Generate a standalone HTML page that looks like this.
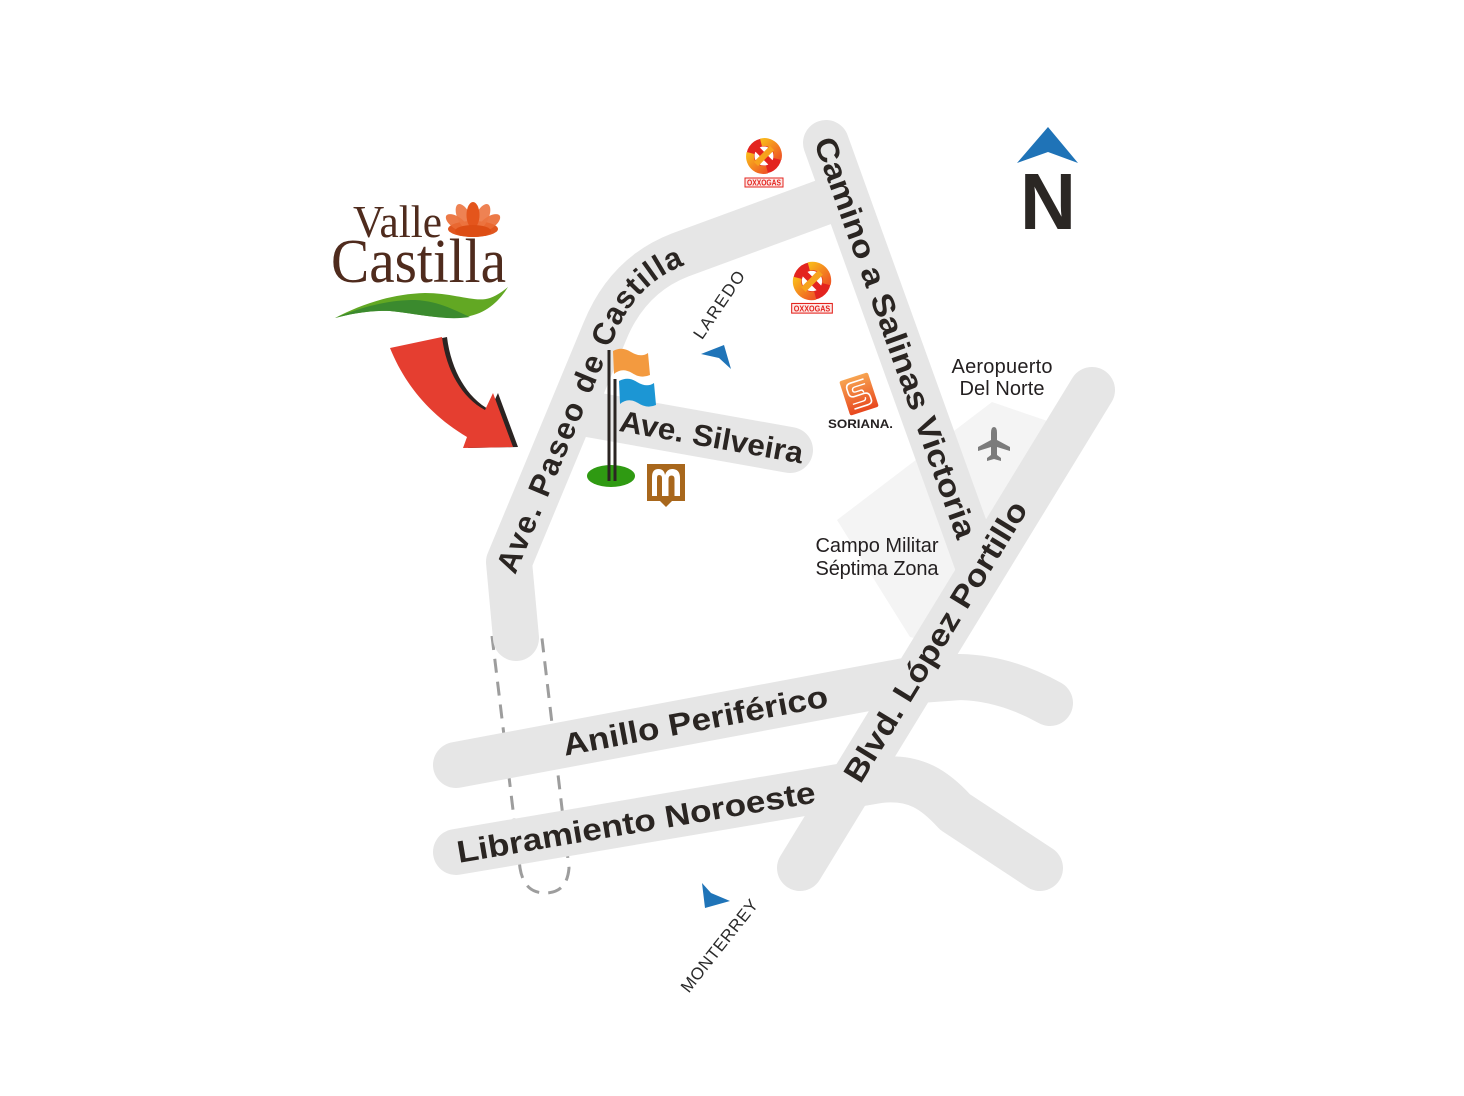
<!DOCTYPE html>
<html>
<head>
<meta charset="utf-8">
<style>
  html, body { margin:0; padding:0; background:#fff; }
  svg { display:block; }
</style>
</head>
<body>
<svg xmlns="http://www.w3.org/2000/svg" width="1464" height="1096" viewBox="0 0 1464 1096">
  <defs>
    <linearGradient id="og" x1="0" y1="0" x2="1" y2="1">
      <stop offset="0" stop-color="#f9b51b"/>
      <stop offset="1" stop-color="#ef5a24"/>
    </linearGradient>
    <linearGradient id="sg" x1="0" y1="0" x2="0" y2="1">
      <stop offset="0" stop-color="#f7a451"/>
      <stop offset="1" stop-color="#e8471e"/>
    </linearGradient>
    <path id="pp" d="M505,571 L605,331 Q628,275 680,255 L835,198" fill="none"/>
  </defs>

  <rect width="1464" height="1096" fill="#fff"/>

  <!-- campo militar shaded zone -->
  <polygon points="837,520 992,402 1062,426 930,642 910,637" fill="#f4f4f4"/>

  <!-- dashed route -->
  <path d="M492,636 L520,868 Q524,893 545,893 Q567,893 569,868 L541,630" fill="none" stroke="#9d9d9d" stroke-width="3" stroke-dasharray="14 9"/>

  <!-- roads -->
  <g fill="none" stroke="#e6e6e6" stroke-width="46" stroke-linecap="round" stroke-linejoin="round">
    <path d="M516,638 L509,562 L605,331 Q628,275 680,255 L835,198"/>
    <path d="M826,143 L978,565"/>
    <path d="M1092,390 L800,868"/>
    <path d="M456,765 L905,681 L960,677 Q1005,678 1050,703"/>
    <path d="M456,852 L880,780 C915,776 935,790 955,812 L1040,868"/>
    <path d="M588,414 L790,450"/>
  </g>

  <!-- road labels -->
  <g font-family="'Liberation Sans', Arial, sans-serif" font-weight="bold" font-size="31" fill="#2a2522">
    <text dy="11" letter-spacing="2"><textPath href="#pp">Ave. Paseo de Castilla</textPath></text>
    <text transform="translate(620,420) rotate(10.1)" dy="11" font-size="30" textLength="186" lengthAdjust="spacingAndGlyphs">Ave. Silveira</text>
    <text transform="translate(824,138) rotate(70.2)" dy="11" textLength="424" lengthAdjust="spacingAndGlyphs">Camino a Salinas Victoria</text>
    <text transform="translate(851,779) rotate(-58.6)" dy="11" textLength="323" lengthAdjust="spacingAndGlyphs">Blvd. López Portillo</text>
    <text transform="translate(563,745) rotate(-10.6)" dy="11" textLength="269" lengthAdjust="spacingAndGlyphs">Anillo Periférico</text>
    <text transform="translate(457,852) rotate(-9.6)" dy="11" textLength="363" lengthAdjust="spacingAndGlyphs">Libramiento Noroeste</text>
  </g>

  <!-- place labels -->
  <g font-family="'Liberation Sans', Arial, sans-serif" font-size="20" fill="#231f20" text-anchor="middle">
    <text x="1002" y="373" textLength="101">Aeropuerto</text>
    <text x="1002" y="395" textLength="85">Del Norte</text>
    <text x="877" y="552" textLength="123">Campo Militar</text>
    <text x="877" y="575" textLength="123">Séptima Zona</text>
  </g>

  <!-- direction labels -->
  <g font-family="'Liberation Sans', Arial, sans-serif" font-size="17" fill="#2a2a2a">
    <text transform="translate(697,337) rotate(-56)" dy="6" textLength="78">LAREDO</text>
    <text transform="translate(684,990) rotate(-51.6)" dy="6" textLength="113">MONTERREY</text>
  </g>
  <polygon points="724,345 731,369 719,358 701,354" fill="#1f74b8"/>
  <polygon points="702,883 705,908 730,901 711,893" fill="#1f74b8"/>

  <!-- plane -->
  <path d="M994,427 Q997,427 997,433 L997,440 L1010,447 L1010,451 L997,447 L997,455 L1001,458 L1001,461 L994,459 L987,461 L987,458 L991,455 L991,447 L978,451 L978,447 L991,440 L991,433 Q991,427 994,427 Z" fill="#7b7b7b"/>

  <!-- flags / golf -->
  <ellipse cx="611" cy="476" rx="24" ry="11" fill="#2f9a12"/>
  <rect x="607.5" y="350" width="3" height="131" fill="#2b2522"/>
  <rect x="613.5" y="379" width="3" height="102" fill="#2b2522"/>
  <path d="M613,351 Q622,346 631,352 Q641,358 648,353 L650,375 Q641,379 632,373 Q622,367 614,374 Z" fill="#f39a3f"/>
  <path d="M619,381 Q628,376 637,382 Q647,388 654,383 L656,405 Q647,409 638,403 Q628,397 620,404 Z" fill="#1c96d4"/>

  <!-- museum icon -->
  <rect x="647" y="464" width="38" height="37" fill="#a8671c"/>
  <polygon points="659,500 673,500 666,507" fill="#a8671c"/>
  <path d="M652,496 V477 Q652,469 658.5,469 Q664,469 665,475 Q667,469 672,469 Q680,469 680,478 V496 H674.5 V479 Q674.5,475.5 671.5,475.5 Q668.5,475.5 668.5,479 V496 H662 V478 Q662,475 659,475 Q657,475 657,478 V496 Z" fill="#fff"/>
  <rect x="658.3" y="478" width="1.3" height="18" fill="#a8671c"/>
  <rect x="670.8" y="478" width="1.3" height="18" fill="#a8671c"/>

  <!-- OXXO GAS 1 -->
  <g transform="translate(764,156)">
    <line x1="-8" y1="-8" x2="8" y2="8" stroke="#e3241f" stroke-width="6"/>
    <circle r="13.5" fill="none" stroke="#e3241f" stroke-width="8"/>
    <path d="M-3,-13.5 A13.5,13.5 0 0 1 13.5,3" fill="none" stroke="url(#og)" stroke-width="8"/>
    <path d="M3,13.5 A13.5,13.5 0 0 1 -13.5,-3" fill="none" stroke="url(#og)" stroke-width="8"/>
    <line x1="-8" y1="8" x2="8" y2="-8" stroke="#f7a21d" stroke-width="6"/>
    <rect x="-19" y="22" width="38" height="9" fill="#fde8e6" stroke="#e3241f" stroke-width="1"/>
    <text x="0" y="29.5" font-family="'Liberation Sans', Arial, sans-serif" font-weight="bold" font-size="8" fill="#e3241f" text-anchor="middle" textLength="34" lengthAdjust="spacingAndGlyphs">OXXOGAS</text>
  </g>
  <!-- OXXO GAS 2 -->
  <g transform="translate(812,281) scale(1.07)">
    <line x1="-8" y1="-8" x2="8" y2="8" stroke="#e3241f" stroke-width="6"/>
    <circle r="13.5" fill="none" stroke="#e3241f" stroke-width="8"/>
    <path d="M-3,-13.5 A13.5,13.5 0 0 1 13.5,3" fill="none" stroke="url(#og)" stroke-width="8"/>
    <path d="M3,13.5 A13.5,13.5 0 0 1 -13.5,-3" fill="none" stroke="url(#og)" stroke-width="8"/>
    <line x1="-8" y1="8" x2="8" y2="-8" stroke="#f7a21d" stroke-width="6"/>
    <rect x="-19" y="21" width="38" height="9" fill="#fde8e6" stroke="#e3241f" stroke-width="1"/>
    <text x="0" y="28.5" font-family="'Liberation Sans', Arial, sans-serif" font-weight="bold" font-size="8" fill="#e3241f" text-anchor="middle" textLength="34" lengthAdjust="spacingAndGlyphs">OXXOGAS</text>
  </g>

  <!-- Soriana -->
  <g transform="translate(859,394) rotate(-18)">
    <rect x="-15" y="-18" width="30" height="36" rx="2" fill="url(#sg)"/>
    <path d="M9,-13 H-5 Q-10,-13 -10,-8 V-4 Q-10,1 -5,1 H5 Q10,1 10,6 V9 Q10,13 5,13 H-9" fill="none" stroke="#fff" stroke-width="1.6"/>
    <path d="M9,-8 H-2 Q-5,-8 -5,-5 Q-5,-3 -2,-3 H3 Q5,-3 5,0" fill="none" stroke="#fff" stroke-width="1.4"/>
    <path d="M-9,8 H2 Q5,8 5,5" fill="none" stroke="#fff" stroke-width="1.4"/>
  </g>
  <text x="860.5" y="428" font-family="'Liberation Sans', Arial, sans-serif" font-weight="bold" font-size="12" fill="#231f20" text-anchor="middle" textLength="65" lengthAdjust="spacingAndGlyphs">SORIANA.</text>

  <!-- North -->
  <polygon points="1048,127 1078,163 1048,152 1017,163" fill="#1f73b7"/>
  <text x="1048" y="229" font-family="'Liberation Sans', Arial, sans-serif" font-weight="bold" font-size="80" fill="#2b2724" text-anchor="middle" textLength="56" lengthAdjust="spacingAndGlyphs">N</text>

  <!-- Logo -->
  <g>
    <ellipse cx="473" cy="229" rx="25" ry="8" fill="#e0561f"/>
    <ellipse cx="0" cy="0" rx="6" ry="13" fill="#ea6a33" opacity="0.9" transform="translate(457,223) rotate(-55)"/>
    <ellipse cx="0" cy="0" rx="6" ry="13" fill="#ea6a33" opacity="0.9" transform="translate(489,223) rotate(55)"/>
    <ellipse cx="0" cy="0" rx="6.5" ry="14" fill="#ec7440" opacity="0.9" transform="translate(464,217) rotate(-25)"/>
    <ellipse cx="0" cy="0" rx="6.5" ry="14" fill="#ec7440" opacity="0.9" transform="translate(482,217) rotate(25)"/>
    <ellipse cx="473" cy="215" rx="6.5" ry="13" fill="#e4551c"/>
    <ellipse cx="473" cy="231" rx="18" ry="6" fill="#dd4d14"/>
  </g>
  <text x="353" y="237" font-family="'Liberation Serif', 'Times New Roman', serif" font-size="45" fill="#4f2b1d" textLength="89" lengthAdjust="spacingAndGlyphs">Valle</text>
  <text x="331" y="282" font-family="'Liberation Serif', 'Times New Roman', serif" font-size="62" fill="#4f2b1d" textLength="175" lengthAdjust="spacingAndGlyphs">Castilla</text>
  <path d="M335,318 C360,305 390,294 425,293 C455,293 475,303 490,298 C498,295 503,291 508,287 C500,300 488,312 470,316 C445,321 420,314 390,311 C370,310 350,314 335,318 Z" fill="#62a823"/>
  <path d="M335,318 C360,308 385,300 415,300 C440,301 458,312 470,317 C445,321 420,314 390,311 C370,310 350,314 335,318 Z" fill="#3b8a2e"/>

  <!-- red arrow -->
  <path transform="translate(5,0)" d="M390,348 L442,337 C446,370 462,398 485,410 L493,393 L513,447 L463,448 L467,437 C430,415 405,385 390,348 Z" fill="#2b2422"/>
  <path d="M390,348 L442,337 C446,370 462,398 485,410 L493,393 L513,447 L463,448 L467,437 C430,415 405,385 390,348 Z" fill="#e53e30"/>
</svg>
</body>
</html>
